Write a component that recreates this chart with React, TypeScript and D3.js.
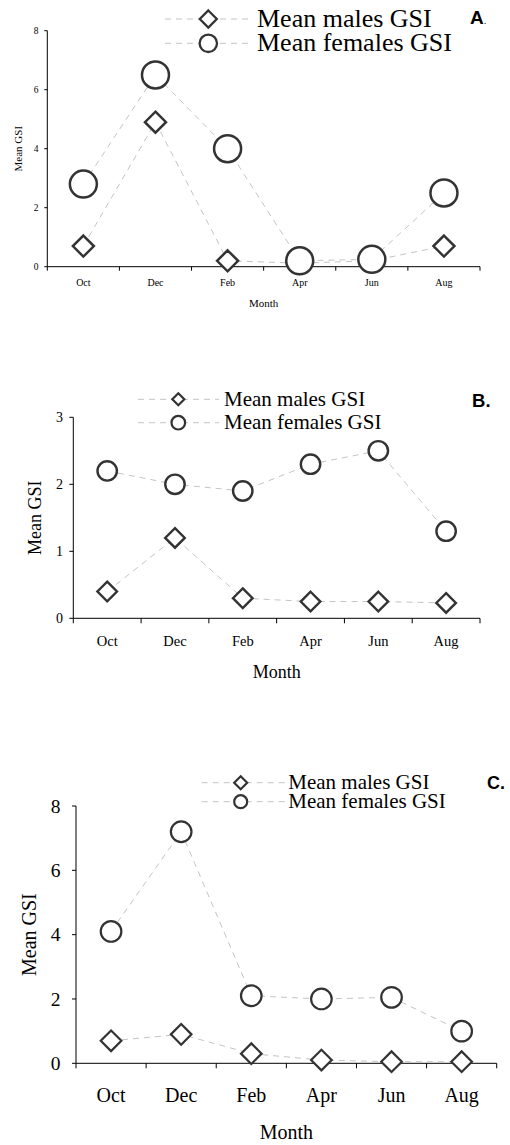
import React from "react";
import * as d3 from "d3";

const months = ["Oct", "Dec", "Feb", "Apr", "Jun", "Aug"];
const malesA = [0.7, 4.9, 0.2, 0.12, 0.2, 0.7];
const femalesA = [2.8, 6.5, 4.0, 0.2, 0.25, 2.5];
const malesB = [0.4, 1.2, 0.3, 0.25, 0.25, 0.23];
const femalesB = [2.2, 2.0, 1.9, 2.3, 2.5, 1.3];
const malesC = [0.7, 0.9, 0.3, 0.1, 0.05, 0.05];
const femalesC = [4.1, 7.2, 2.1, 2.0, 2.05, 1.0];
const ticksA = [0, 2, 4, 6, 8];
const ticksB = [0, 1, 2, 3];
const ticksC = [0, 2, 4, 6, 8];
const seriesNames = ["Mean males GSI", "Mean females GSI"];
const yTitle = "Mean GSI";
const xTitle = "Month";

const SERIF = "'Liberation Serif', 'Times New Roman', serif";
const SANS = "'Liberation Sans', Arial, sans-serif";
const LINE = "#c4c4c4";
const MARK = "#333";

type PanelCfg = {
  males: number[];
  females: number[];
  ticks: number[];
  label: string;
  x0: number; x1: number; y0: number; y1: number;
  tickFont: number; yTickFont: number; titleFont: number;
  tickLabelY: number; monthY: number; yTitleX: number; yTickRight: number;
  circR: number; diaR: number; sw: number;
  leg: { l0: number; l1: number; mx: number; tx: number; r1: number; r2: number; b1: number; b2: number; font: number; dR: number; cR: number; sw: number };
  letter: { x: number; y: number; font: number };
  tickLen: number;
};

function diamondPath(cx: number, cy: number, r: number) {
  return `M${cx},${cy - r}L${cx + r},${cy}L${cx},${cy + r}L${cx - r},${cy}Z`;
}

function Panel({ c }: { c: PanelCfg }) {
  const x = d3.scaleBand<string>().domain(months).range([c.x0, c.x1]).padding(0);
  const ymax = c.ticks[c.ticks.length - 1];
  const y = d3.scaleLinear().domain([0, ymax]).range([c.y0, c.y1]);
  const cx = (m: string) => (x(m) as number) + x.bandwidth() / 2;
  const line = d3
    .line<number>()
    .x((_, i) => cx(months[i]))
    .y((d) => y(d));
  const boundaries = months.map((m) => x(m) as number).concat([c.x1]);
  const L = c.leg;
  return (
    <g>
      {/* legend */}
      <line x1={L.l0} x2={L.l1} y1={L.r1} y2={L.r1} stroke={LINE} strokeWidth={1} strokeDasharray="6,5" />
      <line x1={L.l0} x2={L.l1} y1={L.r2} y2={L.r2} stroke={LINE} strokeWidth={1} strokeDasharray="6,5" />
      <path d={diamondPath(L.mx, L.r1, L.dR)} fill="#fff" stroke={MARK} strokeWidth={L.sw} />
      <circle cx={L.mx} cy={L.r2} r={L.cR} fill="#fff" stroke={MARK} strokeWidth={L.sw} />
      <text x={L.tx} y={L.b1} fontFamily={SERIF} fontSize={L.font} fill="#000">{seriesNames[0]}</text>
      <text x={L.tx} y={L.b2} fontFamily={SERIF} fontSize={L.font} fill="#000">{seriesNames[1]}</text>
      <text x={c.letter.x} y={c.letter.y} fontFamily={SANS} fontSize={c.letter.font} fontWeight="bold" fill="#000">
        {c.label}
        <tspan fontWeight={c.label === "A" ? "normal" : "bold"} fontSize={c.label === "A" ? c.letter.font * 0.5 : c.letter.font}>.</tspan>
      </text>

      {/* axes */}
      <line x1={c.x0} x2={c.x0} y1={y(ymax)} y2={y(0)} stroke="#000" strokeWidth={1} />
      {c.ticks.map((t) => (
        <g key={"yt" + t}>
          <line x1={c.x0 - c.tickLen} x2={c.x0} y1={y(t)} y2={y(t)} stroke="#000" strokeWidth={1} />
          <text x={c.yTickRight} y={y(t)} dy="0.35em" textAnchor="end" fontFamily={SERIF} fontSize={c.yTickFont} fill="#000">
            {t}
          </text>
        </g>
      ))}
      <line x1={c.x0} x2={c.x1} y1={y(0)} y2={y(0)} stroke="#000" strokeWidth={1} />
      {boundaries.map((b, i) => (
        <line key={"xt" + i} x1={b} x2={b} y1={y(0)} y2={y(0) + c.tickLen + 1} stroke="#000" strokeWidth={1} />
      ))}
      {months.map((m) => (
        <text key={"xl" + m} x={cx(m)} y={c.tickLabelY} dy="0.35em" textAnchor="middle" fontFamily={SERIF} fontSize={c.tickFont} fill="#000">
          {m}
        </text>
      ))}
      <text x={(c.x0 + c.x1) / 2} y={c.monthY} dy="0.35em" textAnchor="middle" fontFamily={SERIF} fontSize={c.titleFont} fill="#000">
        {xTitle}
      </text>
      <text
        transform={`translate(${c.yTitleX},${(y(0) + y(ymax)) / 2}) rotate(-90)`}
        dy="0.35em"
        textAnchor="middle"
        fontFamily={SERIF}
        fontSize={c.titleFont}
        fill="#000"
      >
        {yTitle}
      </text>

      {/* series lines */}
      <path d={line(c.males) || ""} fill="none" stroke={LINE} strokeWidth={1} strokeDasharray="6,5" />
      <path d={line(c.females) || ""} fill="none" stroke={LINE} strokeWidth={1} strokeDasharray="6,5" />
      {c.males.map((v, i) => (
        <path key={"d" + i} d={diamondPath(cx(months[i]), y(v), c.diaR)} fill="#fff" stroke={MARK} strokeWidth={c.sw} />
      ))}
      {c.females.map((v, i) => (
        <circle key={"c" + i} cx={cx(months[i])} cy={y(v)} r={c.circR} fill="#fff" stroke={MARK} strokeWidth={c.sw} />
      ))}
    </g>
  );
}

const panels: PanelCfg[] = [
  {
    males: malesA, females: femalesA, ticks: ticksA, label: "A",
    x0: 47.3, x1: 480, y0: 266.7, y1: 30.7,
    tickFont: 10, yTickFont: 9.5, titleFont: 11,
    tickLabelY: 282.7, monthY: 303, yTitleX: 18, yTickRight: 38.5,
    circR: 13.5, diaR: 10.5, sw: 2.5, tickLen: 3,
    leg: { l0: 165, l1: 251, mx: 208.3, tx: 257, r1: 19, r2: 43.3, b1: 27, b2: 51, font: 26, dR: 8.5, cR: 8.7, sw: 2.3 },
    letter: { x: 470, y: 24, font: 19 },
  },
  {
    males: malesB, females: femalesB, ticks: ticksB, label: "B",
    x0: 73.3, x1: 480, y0: 618.3, y1: 417.3,
    tickFont: 14.5, yTickFont: 14, titleFont: 18,
    tickLabelY: 641, monthY: 671.7, yTitleX: 35, yTickRight: 63,
    circR: 9.7, diaR: 9.8, sw: 2.4, tickLen: 4,
    leg: { l0: 138, l1: 219, mx: 178.3, tx: 224, r1: 399.3, r2: 422.7, b1: 405.5, b2: 429, font: 21, dR: 6, cR: 6.8, sw: 2.2 },
    letter: { x: 472, y: 407.3, font: 18.5 },
  },
  {
    males: malesC, females: femalesC, ticks: ticksC, label: "C",
    x0: 76, x1: 496.7, y0: 1063.3, y1: 806,
    tickFont: 20, yTickFont: 19.5, titleFont: 20,
    tickLabelY: 1095, monthY: 1131.7, yTitleX: 28.5, yTickRight: 60.5,
    circR: 10.3, diaR: 10.3, sw: 2.2, tickLen: 4,
    leg: { l0: 201.7, l1: 285, mx: 240.7, tx: 288.3, r1: 782.7, r2: 801.7, b1: 788.6, b2: 807.5, font: 21, dR: 6.5, cR: 6.5, sw: 2.2 },
    letter: { x: 487, y: 789.3, font: 18 },
  },
];

export default function App() {
  return (
    <svg
      width={510}
      height={1145}
      viewBox="0 0 510 1145"
      style={{ position: "absolute", left: 0, top: 0, background: "#fff" }}
    >
      <rect x={0} y={0} width={510} height={1145} fill="#fff" />
      {panels.map((p) => (
        <Panel key={p.label} c={p} />
      ))}
    </svg>
  );
}
